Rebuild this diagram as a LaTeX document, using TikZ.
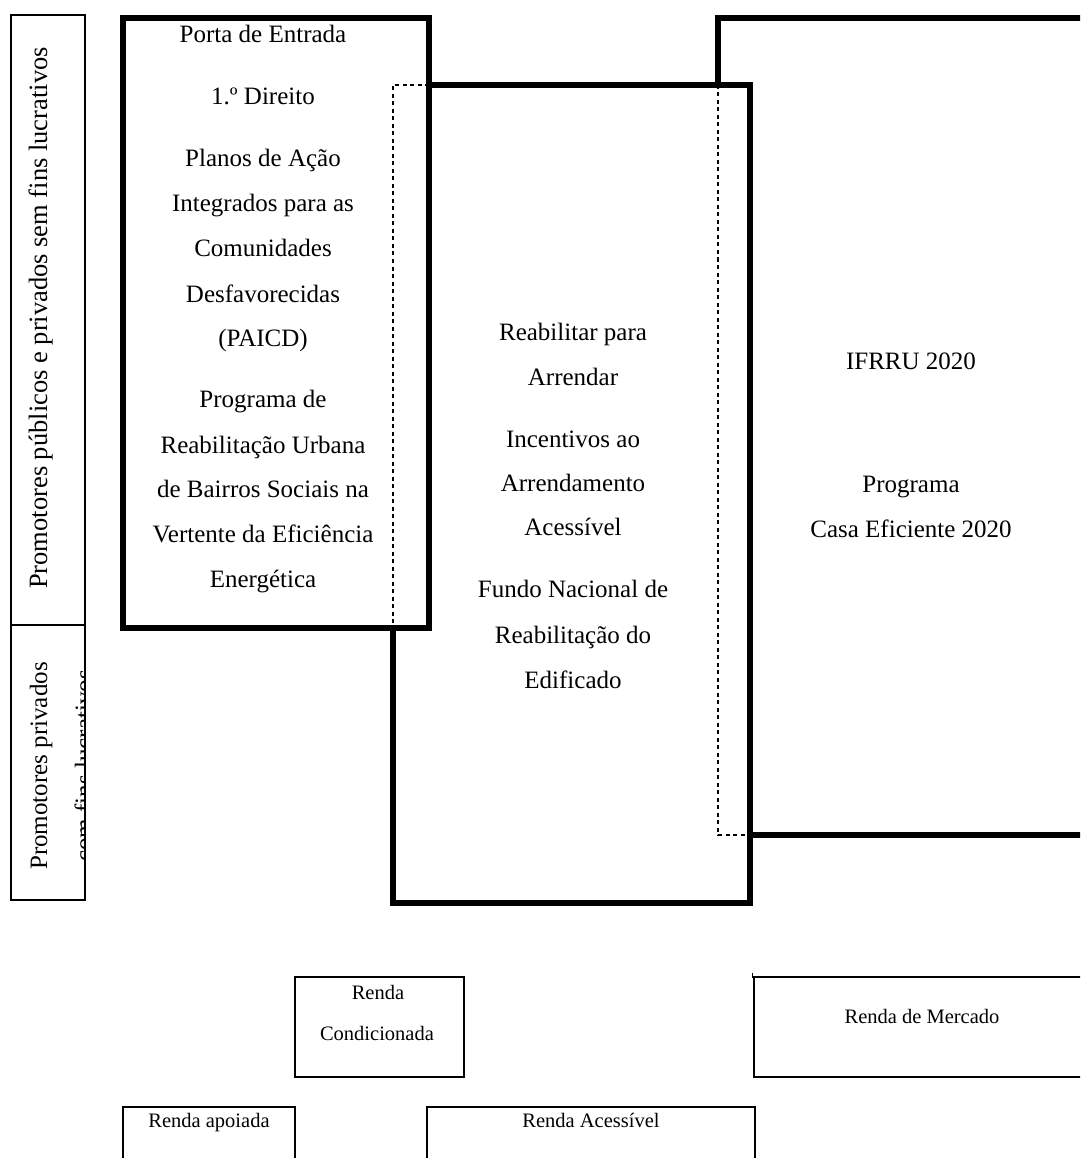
\documentclass[tikz,border=0pt]{standalone}
\usepackage{fontspec}
\setmainfont{Liberation Serif}
\begin{document}
\begin{tikzpicture}[x=1pt,y=-1pt,
  thickbox/.style={line width=6pt, line join=miter, line cap=rect},
  thinbox/.style={line width=2.5pt, line join=miter},
  dashline/.style={line width=2.3pt, dash pattern=on 4pt off 3.5pt},
  lbl/.style={font=\fontsize{25}{30}\selectfont, inner sep=0pt, anchor=base},
  sidelbl/.style={font=\fontsize{26.5}{30}\selectfont, inner sep=0pt, anchor=base},
  smalllbl/.style={font=\fontsize{20.5}{25}\selectfont, inner sep=0pt, anchor=base}]
\useasboundingbox (0,0) rectangle (1080,1158);
\clip (0,0) rectangle (1080,1158);

% corner coordinates
\coordinate (b1nw) at (123,18);  \coordinate (b1se) at (429,628);
\coordinate (b2nw) at (393,85);  \coordinate (b2ne) at (750,85);
\coordinate (b2se) at (750,903); \coordinate (b2sw) at (393,903);
\coordinate (b2cut) at (429,85); \coordinate (b2low) at (393,628);
\coordinate (b3nw) at (718,18);  \coordinate (b3ne) at (1095,18);
\coordinate (b3cut) at (718,85); \coordinate (b3sw) at (718,835);
\coordinate (b3sm) at (750,835); \coordinate (b3se) at (1095,835);

% left column box
\draw[thinbox] (11,15) rectangle (85,900);
\draw[thinbox] (11,625) -- (85,625);
\node[sidelbl, rotate=90] (lt) at (47,318) {Promotores públicos e privados sem fins lucrativos};
\begin{scope}
  \clip (12,626) rectangle (84,899);
  \node[lbl, rotate=90] (lb1) at (47,766) {Promotores privados};
  \node[lbl, rotate=90] (lb2) at (92,766) {com fins lucrativos};
\end{scope}

% box 1
\draw[thickbox] (b1nw) rectangle (b1se);
% box 2
\draw[thickbox] (b2cut) -- (b2ne) -- (b2se) -- (b2sw) -- (b2low);
\draw[dashline] (b2cut) -- (b2nw) -- (b2low);
% box 3
\draw[thickbox] (b3cut) -- (b3nw) -- (b3ne);
\draw[thickbox] (b3sm) -- (b3se);
\draw[dashline] (b3cut) -- (b3sw) -- (b3sm);

% box 1 texts
\foreach \t/\y [count=\i] in {Porta de Entrada/43, 1.º Direito/105, Planos de Ação/167,
  Integrados para as/212, Comunidades/257, Desfavorecidas/302, (PAICD)/346,
  Programa de/407, Reabilitação Urbana/453, de Bairros Sociais na/497,
  Vertente da Eficiência/542, Energética/587}
  \node[lbl] (a\i) at (263,\y) {\t};

% box 2 texts
\foreach \t/\y [count=\i] in {Reabilitar para/340, Arrendar/385, Incentivos ao/447,
  Arrendamento/491, Acessível/535, Fundo Nacional de/597, Reabilitação do/643,
  Edificado/688}
  \node[lbl] (b\i) at (573,\y) {\t};

% box 3 texts
\node[lbl] (c1) at (911,369) {IFRRU 2020};
\node[lbl] (c2) at (911,492) {Programa};
\node[lbl] (c3) at (911,537) {Casa Eficiente 2020};

% bottom boxes
\draw[thinbox] (295,977) rectangle (464,1077);
\node[smalllbl] (rc1) at (378,999) {Renda};
\node[smalllbl] (rc2) at (377,1040) {Condicionada};

\draw[thinbox] (754,977) rectangle (1095,1077);
\node[smalllbl] (rm) at (922,1023) {Renda de Mercado};
\draw[line width=1pt] (752,973) -- (752,978);

\draw[thinbox] (123,1107) rectangle (295,1175);
\node[smalllbl] (ra) at (209,1127) {Renda apoiada};

\draw[thinbox] (427,1107) rectangle (755,1175);
\node[smalllbl] (rac) at (591,1127) {Renda Acessível};
\end{tikzpicture}
\end{document}
